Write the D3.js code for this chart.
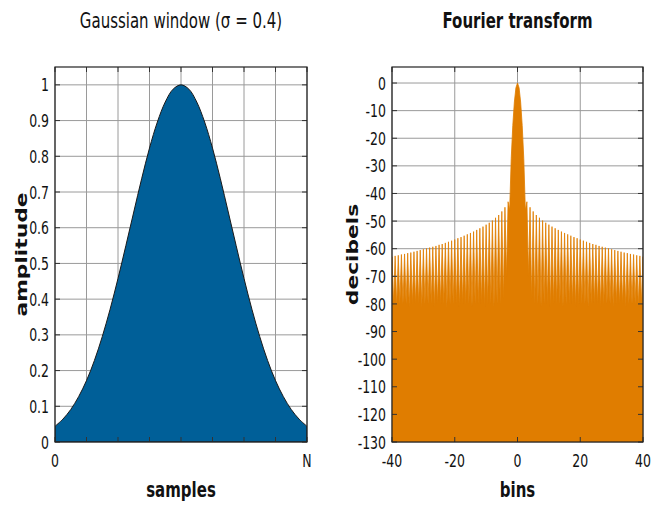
<!DOCTYPE html>
<html>
<head>
<meta charset="utf-8">
<script src="https://cdn.jsdelivr.net/npm/d3@7"></script>
<style>
  html, body { margin: 0; padding: 0; background: #fff; }
  svg { display: block; }
  text { font-family: "DejaVu Sans", sans-serif; fill: #111; }
</style>
</head>
<body>
<svg id="chart" width="662" height="505"></svg>
<script>
// ---- Gaussian window, sampled at 33 evenly spaced points from 0 to N ----
const windowAmp = [0.044, 0.064, 0.091, 0.127, 0.172, 0.228, 0.295, 0.372, 0.458,
  0.550, 0.644, 0.737, 0.823, 0.896, 0.952, 0.988, 1.000, 0.988, 0.952, 0.896,
  0.823, 0.737, 0.644, 0.550, 0.458, 0.372, 0.295, 0.228, 0.172, 0.127, 0.091,
  0.064, 0.044];

// ---- Magnitude spectrum (dB): lobe tops at each bin, dips between bins ----
const bins = d3.range(-40, 41);
const peakDb = [-62.9, -62.6, -62.4, -62.1, -61.9, -61.6, -61.4, -61.1, -60.8, -60.5,
  -60.2, -59.9, -59.6, -59.3, -59.0, -58.6, -58.3, -57.9, -57.5, -57.1,
  -56.7, -56.2, -55.8, -55.3, -54.8, -54.3, -53.8, -53.2, -52.6, -52.0,
  -51.3, -50.6, -49.8, -48.8, -47.8, -46.5, -45.0, -43.0, -27.4, -6.9,
  0,
  -6.9, -27.4, -43.0, -45.0, -46.5, -47.8, -48.8, -49.8, -50.6, -51.3,
  -52.0, -52.6, -53.2, -53.8, -54.3, -54.8, -55.3, -55.8, -56.2, -56.7,
  -57.1, -57.5, -57.9, -58.3, -58.6, -59.0, -59.3, -59.6, -59.9, -60.2,
  -60.5, -60.8, -61.1, -61.4, -61.6, -61.9, -62.1, -62.4, -62.6, -62.9];
const dipDb = [-80, -81, -80, -80, -80, -81, -80, -80, -80, -81,
  -80, -80, -80, -81, -80, -80, -80, -81, -80, -80,
  -80, -81, -80, -80, -80, -81, -80, -80, -80, -81,
  -80, -80, -81, -80, -80, -78, -70, -46, -15.4, -1.7,
  -1.7, -15.4, -46, -70, -78, -80, -80, -81, -80, -80,
  -81, -80, -80, -80, -81, -80, -80, -80, -81, -80,
  -80, -80, -81, -80, -80, -80, -81, -80, -80, -80,
  -81, -80, -80, -80, -81, -80, -80, -80, -81, -80];

// ---- Axis ticks and labels ----
const ampTicks = d3.range(0, 11).map(i => i / 10);
const ampLabels = ["0", "0.1", "0.2", "0.3", "0.4", "0.5", "0.6", "0.7", "0.8", "0.9", "1"];
const sampleGrid = d3.range(0, 9).map(i => i / 8);
const sampleTicks = [0, 1];
const sampleLabels = ["0", "N"];
const dbTicks = d3.range(0, -131, -10);
const binTicks = [-40, -20, 0, 20, 40];

const svg = d3.select("#chart");
const SY = 1.45;           // vertical stretch applied to all lettering
const FONT = 15;
const TICK_FONT = 12.5;

function label(g, x, y, str, opts = {}) {
  const t = g.append("text")
    .attr("text-anchor", opts.anchor || "middle")
    .attr("font-size", opts.size || FONT)
    .attr("font-weight", opts.bold ? "bold" : "normal")
    .text(str);
  if (opts.rotate) {
    t.attr("transform", `translate(${x},${y}) scale(1,${SY}) rotate(-90)`);
  } else {
    t.attr("transform", `translate(${x},${y}) scale(1,${SY})`);
  }
  return t;
}

function panel(cfg) {
  const g = svg.append("g");
  const { x, y } = cfg;
  const [x0, x1] = x.range();
  const [yb, yt] = y.range();

  // grid
  g.append("g").selectAll("line.v").data(cfg.xGrid).join("line")
    .attr("x1", d => x(d)).attr("x2", d => x(d))
    .attr("y1", yt).attr("y2", yb)
    .attr("stroke", "#9a9a9a").attr("stroke-width", 1);
  g.append("g").selectAll("line.h").data(cfg.yGrid).join("line")
    .attr("x1", x0).attr("x2", x1)
    .attr("y1", d => y(d)).attr("y2", d => y(d))
    .attr("stroke", "#9a9a9a").attr("stroke-width", 1);

  // data
  const clipId = cfg.id + "-clip";
  g.append("clipPath").attr("id", clipId).append("rect")
    .attr("x", x0).attr("y", yt).attr("width", x1 - x0).attr("height", yb - yt);
  cfg.draw(g.append("g").attr("clip-path", `url(#${clipId})`));

  // inward ticks on every side
  const tl = 5;
  const tk = g.append("g").attr("stroke", "#333").attr("stroke-width", 1);
  cfg.xGrid.forEach(d => {
    tk.append("line").attr("x1", x(d)).attr("x2", x(d)).attr("y1", yb).attr("y2", yb - tl);
    tk.append("line").attr("x1", x(d)).attr("x2", x(d)).attr("y1", yt).attr("y2", yt + tl);
  });
  cfg.yGrid.forEach(d => {
    tk.append("line").attr("x1", x0).attr("x2", x0 + tl).attr("y1", y(d)).attr("y2", y(d));
    tk.append("line").attr("x1", x1).attr("x2", x1 - tl).attr("y1", y(d)).attr("y2", y(d));
  });

  // frame
  g.append("rect").attr("x", x0).attr("y", yt)
    .attr("width", x1 - x0).attr("height", yb - yt)
    .attr("fill", "none").attr("stroke", "#222").attr("stroke-width", 1.2);

  // tick labels
  const digitH = TICK_FONT * 0.73 * SY;
  cfg.yTicks.forEach((d, i) => {
    label(g, x0 - 6, y(d) + digitH / 2, cfg.yLabels[i], { anchor: "end", size: TICK_FONT });
  });
  cfg.xTicks.forEach((d, i) => {
    label(g, x(d), yb + 25, cfg.xLabels[i], { size: TICK_FONT });
  });

  // titles
  label(g, (x0 + x1) / 2, 28, cfg.title, { bold: cfg.titleBold });
  label(g, (x0 + x1) / 2, 497, cfg.xTitle, { bold: true });
  label(g, cfg.yTitleX, (yt + yb) / 2, cfg.yTitle, { bold: true, rotate: true });
}

// ---- Left panel: the window ----
const xS = d3.scaleLinear().domain([0, 1]).range([55, 307]);
const yA = d3.scaleLinear().domain([0, 1.05]).range([442, 67]);
const samplePos = windowAmp.map((_, i) => i / (windowAmp.length - 1));

panel({
  id: "win", x: xS, y: yA,
  xGrid: sampleGrid, yGrid: ampTicks,
  xTicks: sampleTicks, xLabels: sampleLabels,
  yTicks: ampTicks, yLabels: ampLabels,
  title: "Gaussian window (σ = 0.4)", titleBold: false,
  xTitle: "samples", yTitle: "amplitude", yTitleX: 27,
  draw: g => {
    const pts = samplePos.map((p, i) => [p, windowAmp[i]]);
    g.append("path").datum(pts)
      .attr("d", d3.area().curve(d3.curveCatmullRom)
        .x(d => xS(d[0])).y0(yA(0)).y1(d => yA(d[1])))
      .attr("fill", "#005f98")
      .attr("stroke", "#1a1a1a").attr("stroke-width", 1);
  }
});

// ---- Right panel: the spectrum ----
const xB = d3.scaleLinear().domain([-40, 40]).range([392, 643]);
const yD = d3.scaleLinear().domain([-130, 5.8]).range([442, 67]);

panel({
  id: "fft", x: xB, y: yD,
  xGrid: binTicks, yGrid: dbTicks,
  xTicks: binTicks, xLabels: binTicks.map(String),
  yTicks: dbTicks, yLabels: dbTicks.map(String),
  title: "Fourier transform", titleBold: true,
  xTitle: "bins", yTitle: "decibels", yTitleX: 358,
  draw: g => {
    const pts = [];
    bins.forEach((b, i) => {
      pts.push([b, peakDb[i]]);
      if (i < dipDb.length) pts.push([b + 0.5, dipDb[i]]);
    });
    g.append("path").datum(pts)
      .attr("d", d3.area()
        .x(d => xB(d[0])).y0(yD(-130)).y1(d => yD(d[1])))
      .attr("fill", "#e07d00")
      .attr("stroke", "#e07d00").attr("stroke-width", 0.8)
      .attr("stroke-linejoin", "miter");
  }
});
</script>
</body>
</html>
